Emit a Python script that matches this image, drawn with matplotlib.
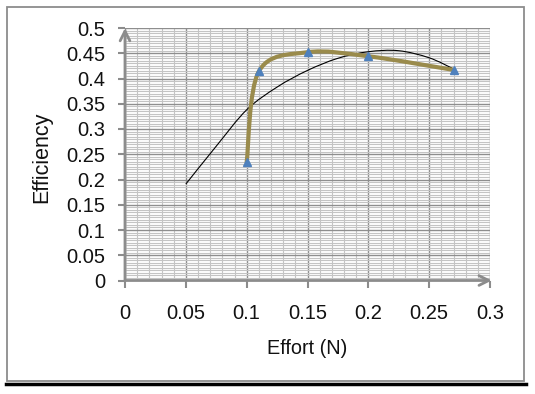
import numpy as np
import matplotlib
matplotlib.use('Agg')
import matplotlib.pyplot as plt
from matplotlib.path import Path
from matplotlib.patches import PathPatch, Rectangle
from matplotlib.lines import Line2D
from matplotlib.ticker import MultipleLocator

plt.rcParams['font.family'] = ['Liberation Sans', 'DejaVu Sans']

# data
effort = [0.10, 0.11, 0.15, 0.20, 0.27]
efficiency = [0.234, 0.414, 0.452, 0.444, 0.417]

# trendline
trend_x = [0.05, 0.075, 0.10, 0.125, 0.15, 0.175, 0.20, 0.225, 0.25, 0.27]
trend_y = [0.191, 0.266, 0.338, 0.383, 0.416, 0.440, 0.453, 0.455, 0.441, 0.419]

W, H = 535, 394
fig = plt.figure(figsize=(W / 100, H / 100), dpi=100)

# outer chart border and the black rule underneath
fig.add_artist(Rectangle((7 / W, 1 - 381 / H), 517 / W, 374 / H, transform=fig.transFigure,
                         fill=False, edgecolor='#8c8c8c', lw=1.3))
fig.add_artist(Line2D([6 / W, 526 / W], [1 - 384 / H, 1 - 384 / H], transform=fig.transFigure,
                      color='black', lw=2.5))

ax = fig.add_axes([125 / W, 1 - 280.5 / H, 365 / W, 252.5 / H])
ax.set_xlim(0, 0.3)
ax.set_ylim(0, 0.5)

ax.xaxis.set_major_locator(MultipleLocator(0.05))
ax.xaxis.set_minor_locator(MultipleLocator(0.01))
ax.yaxis.set_major_locator(MultipleLocator(0.05))
ax.yaxis.set_minor_locator(MultipleLocator(0.005))
ax.grid(which='major', color='#8e8e8e', lw=1.0)
ax.grid(which='minor', color='#c4c4c4', lw=0.8)
ax.set_axisbelow(True)

ax.set_xticks(np.arange(0, 0.31, 0.05))
ax.set_xticklabels(['0', '0.05', '0.1', '0.15', '0.2', '0.25', '0.3'])
ax.set_yticks(np.arange(0, 0.51, 0.05))
ax.set_yticklabels(['0', '0.05', '0.1', '0.15', '0.2', '0.25', '0.3',
                    '0.35', '0.4', '0.45', '0.5'])
ax.tick_params(which='major', direction='out', length=5, width=1.5, color='#8c8c8c',
               labelsize=14.5, labelcolor='#111111')
ax.tick_params(axis='x', pad=12)
ax.tick_params(axis='y', pad=9)
ax.tick_params(which='minor', length=0)
for s in ax.spines.values():
    s.set_visible(False)

# axes with open arrow heads
arrow = dict(arrowstyle='->,head_length=0.7,head_width=0.35', color='#8c8c8c', lw=2,
             shrinkA=0, shrinkB=0)
ax.annotate('', xy=(1.005, 0), xytext=(0, 0), xycoords='axes fraction', arrowprops=arrow,
            annotation_clip=False)
ax.annotate('', xy=(0, 1.0), xytext=(0, 0), xycoords='axes fraction', arrowprops=arrow,
            annotation_clip=False)


def smooth_path(xs, ys):
    # Catmull-Rom -> Bezier, like Excel's smoothed line
    pts = np.column_stack([xs, ys])
    verts = [pts[0]]
    codes = [Path.MOVETO]
    n = len(pts)
    for i in range(n - 1):
        p0 = pts[max(i - 1, 0)]
        p1 = pts[i]
        p2 = pts[i + 1]
        p3 = pts[min(i + 2, n - 1)]
        verts += [p1 + (p2 - p0) / 6, p2 - (p3 - p1) / 6, p2]
        codes += [Path.CURVE4] * 3
    return Path(verts, codes)


ax.add_patch(PathPatch(smooth_path(trend_x, trend_y), fill=False, edgecolor='black',
                       lw=0.8, zorder=3))
ax.add_patch(PathPatch(smooth_path(effort, efficiency), fill=False, edgecolor='#9a8b4c',
                       lw=3, zorder=4, capstyle='round'))
ax.plot(effort, efficiency, linestyle='none', marker='^', markersize=5.5,
        color='#4f81bd', zorder=5)

fig.text(42 / W, 1 - 157 / H, 'Efficiency', rotation=90, ha='center', va='center',
         fontsize=15.5, color='#111111')
fig.text(307 / W, 1 - 349 / H, 'Effort (N)', ha='center', va='center',
         fontsize=14.3, color='#111111')

fig.savefig('out.png', dpi=100)
